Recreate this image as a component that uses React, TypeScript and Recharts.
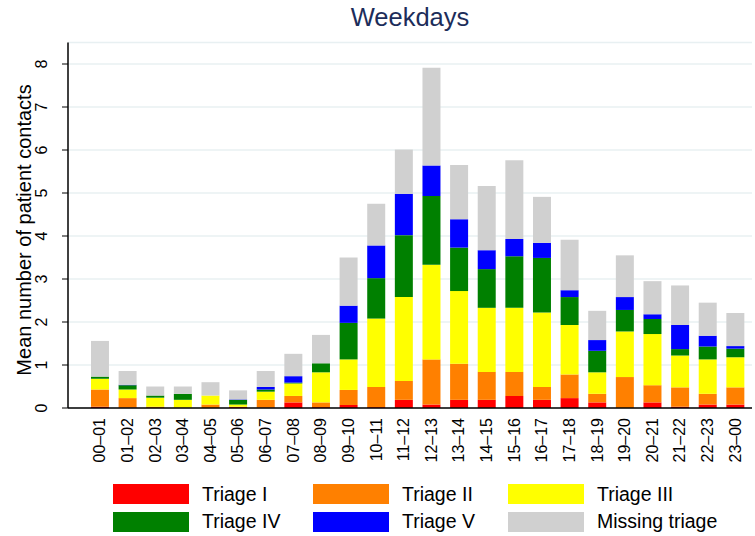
import React from "react";
import { BarChart, Bar, XAxis, YAxis, CartesianGrid } from "recharts";

// hour-of-day categories
const hours = [
  "00–01", "01–02", "02–03", "03–04", "04–05", "05–06", "06–07", "07–08",
  "08–09", "09–10", "10–11", "11–12", "12–13", "13–14", "14–15", "15–16",
  "16–17", "17–18", "18–19", "19–20", "20–21", "21–22", "22–23", "23–00",
];

// mean contacts per triage level
const triageI = [0.03, 0.01, 0.0, 0.0, 0.0, 0.02, 0.01, 0.13, 0.02, 0.07, 0.02, 0.19, 0.08, 0.19, 0.19, 0.28, 0.19, 0.23, 0.13, 0.0, 0.13, 0.03, 0.08, 0.08];
const triageII = [0.4, 0.22, 0.03, 0.01, 0.08, 0.01, 0.18, 0.15, 0.11, 0.35, 0.47, 0.44, 1.05, 0.84, 0.65, 0.56, 0.3, 0.55, 0.2, 0.72, 0.4, 0.45, 0.25, 0.4];
const triageIII = [0.25, 0.2, 0.21, 0.18, 0.21, 0.05, 0.19, 0.29, 0.7, 0.71, 1.59, 1.95, 2.2, 1.69, 1.49, 1.49, 1.73, 1.15, 0.5, 1.06, 1.19, 0.74, 0.8, 0.7];
const triageIV = [0.05, 0.1, 0.05, 0.14, 0.0, 0.11, 0.05, 0.02, 0.21, 0.85, 0.94, 1.44, 1.6, 1.01, 0.9, 1.2, 1.27, 0.65, 0.5, 0.5, 0.35, 0.15, 0.3, 0.2];
const triageV = [0.0, 0.01, 0.0, 0.0, 0.0, 0.01, 0.06, 0.15, 0.0, 0.4, 0.76, 0.96, 0.71, 0.66, 0.44, 0.4, 0.35, 0.16, 0.25, 0.3, 0.11, 0.56, 0.25, 0.06];
const missing = [0.83, 0.32, 0.21, 0.17, 0.31, 0.21, 0.37, 0.52, 0.66, 1.12, 0.97, 1.03, 2.27, 1.26, 1.49, 1.83, 1.07, 1.17, 0.68, 0.97, 0.77, 0.92, 0.77, 0.77];

const yTicks = [0, 1, 2, 3, 4, 5, 6, 7, 8];

const series = [
  { key: "t1", name: "Triage I", color: "#ff0000", values: triageI },
  { key: "t2", name: "Triage II", color: "#ff8000", values: triageII },
  { key: "t3", name: "Triage III", color: "#ffff00", values: triageIII },
  { key: "t4", name: "Triage IV", color: "#008000", values: triageIV },
  { key: "t5", name: "Triage V", color: "#0000ff", values: triageV },
  { key: "miss", name: "Missing triage", color: "#d0d0d0", values: missing },
];

const data = hours.map((hour, i) => {
  const row: any = { hour };
  series.forEach((s) => {
    row[s.key] = s.values[i];
  });
  return row;
});

const FONT = "'Liberation Sans', Arial, Helvetica, sans-serif";

const XTick = ({ x, y, payload }: any) => (
  <text
    x={x}
    y={y}
    transform={`rotate(-90, ${x}, ${y})`}
    textAnchor="end"
    dominantBaseline="central"
    fontSize={16}
    fontFamily={FONT}
    fill="#000"
  >
    {payload.value}
  </text>
);

const YTick = ({ x, y, payload }: any) => (
  <text
    x={x - 19}
    y={y}
    transform={`rotate(-90, ${x - 19}, ${y})`}
    textAnchor="middle"
    dominantBaseline="central"
    fontSize={16}
    fontFamily={FONT}
    fill="#000"
  >
    {payload.value}
  </text>
);

// legend positions: 3 columns x 2 rows
const legendCols = [113, 313, 508];
const swatchRows = [484.3, 511.7];
const textRows = [482.75, 510];

export default function App() {
  return (
    <div
      style={{
        position: "absolute",
        left: 0,
        top: 0,
        width: 755,
        height: 536,
        background: "#fff",
        fontFamily: FONT,
      }}
    >
      <div
        style={{
          position: "absolute",
          left: 68,
          width: 684,
          top: 3,
          textAlign: "center",
          fontSize: 25.5,
          color: "#1c2d5a",
        }}
      >
        Weekdays
      </div>
      <div
        style={{
          position: "absolute",
          left: 23.5,
          top: 230,
          transform: "translate(-50%, -50%) rotate(-90deg)",
          whiteSpace: "nowrap",
          fontSize: 20,
          lineHeight: "24px",
          color: "#000",
        }}
      >
        Mean number of patient contacts
      </div>
      <BarChart
        width={755}
        height={536}
        data={data}
        margin={{ top: 42.5, right: 3, bottom: 78, left: 0 }}
        barCategoryGap="18%"
      >
        <CartesianGrid vertical={false} stroke="#e8f0f2" strokeWidth={1.5} />
        <XAxis
          dataKey="hour"
          height={50}
          interval={0}
          tickSize={0}
          tickMargin={10}
          tick={<XTick />}
          axisLine={{ stroke: "#000", strokeWidth: 1.5 }}
          tickLine={false}
          padding={{ left: 18, right: 3 }}
        />
        <YAxis
          width={68}
          domain={[0, 8.5]}
          ticks={yTicks}
          interval={0}
          tick={<YTick />}
          tickSize={6}
          axisLine={{ stroke: "#000", strokeWidth: 1.5 }}
          tickLine={{ stroke: "#000" }}
        />
        {series.map((s) => (
          <Bar
            key={s.key}
            dataKey={s.key}
            name={s.name}
            stackId="a"
            fill={s.color}
            isAnimationActive={false}
          />
        ))}
      </BarChart>
      {series.map((s, i) => {
        const left = legendCols[i % 3];
        const row = Math.floor(i / 3);
        return (
          <div key={s.key}>
            <div
              style={{
                position: "absolute",
                left,
                top: swatchRows[row],
                width: 76,
                height: 20,
                background: s.color,
              }}
            />
            <div
              style={{
                position: "absolute",
                left: left + 89,
                top: textRows[row],
                fontSize: 19.5,
                lineHeight: "23px",
                color: "#000",
                whiteSpace: "nowrap",
              }}
            >
              {s.name}
            </div>
          </div>
        );
      })}
    </div>
  );
}
